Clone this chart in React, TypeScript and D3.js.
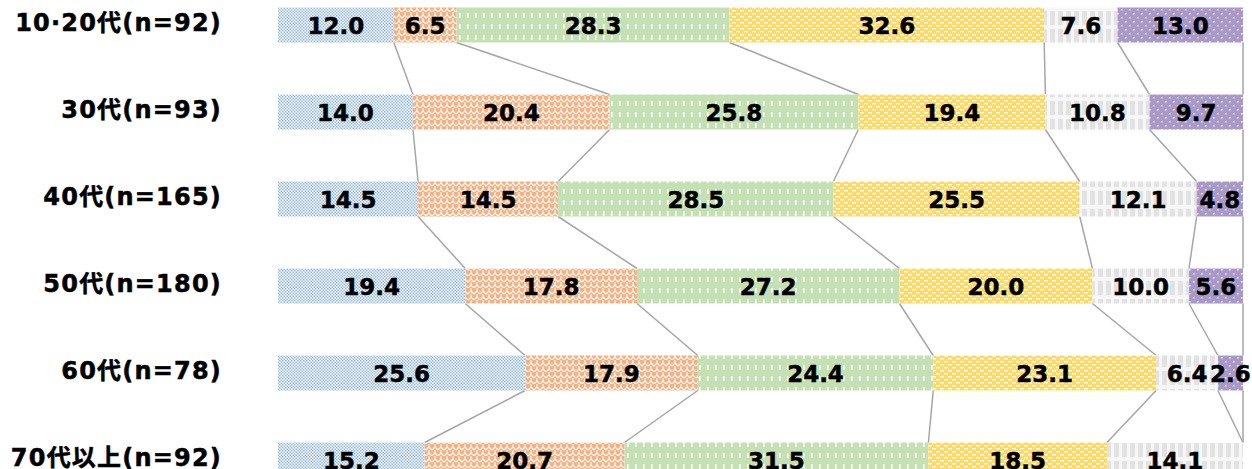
import React from "react";
import * as d3 from "d3";

const categories = ["10·20代(n=92)", "30代(n=93)", "40代(n=165)", "50代(n=180)", "60代(n=78)", "70代以上(n=92)"];
const seriesKeys = ["s1", "s2", "s3", "s4", "s5", "s6"];
const s1 = [12.0, 14.0, 14.5, 19.4, 25.6, 15.2];
const s2 = [6.5, 20.4, 14.5, 17.8, 17.9, 20.7];
const s3 = [28.3, 25.8, 28.5, 27.2, 24.4, 31.5];
const s4 = [32.6, 19.4, 25.5, 20.0, 23.1, 18.5];
const s5 = [7.6, 10.8, 12.1, 10.0, 6.4, 14.1];
const s6 = [13.0, 9.7, 4.8, 5.6, 2.6, 0.0];
const seriesValues = [s1, s2, s3, s4, s5, s6];

const W = 1252;
const H = 469;
const BAR_H = 35;

const rows = categories.map((c, i) => {
  const r: any = { cat: c };
  seriesKeys.forEach((k, j) => (r[k] = seriesValues[j][i]));
  return r;
});

const stacked = d3.stack().keys(seriesKeys).offset(d3.stackOffsetExpand)(rows as any);

const x = d3.scaleLinear().domain([0, 1]).range([278, 1243]);
const y = d3.scalePoint().domain(categories).range([25, 25 + 5 * 87]);

const font = "'DejaVu Sans', 'Noto Sans CJK JP', sans-serif";

function Patterns() {
  return (
    <defs>
      <pattern id="p1" width="3" height="3" patternUnits="userSpaceOnUse">
        <rect width="3" height="3" fill="#ffffff" />
        <rect x="0" y="0" width="1.5" height="1.5" fill="#92B7E4" />
        <rect x="1.5" y="1.5" width="1.5" height="1.5" fill="#92B7E4" />
      </pattern>
      <pattern id="p2" width="12" height="12" patternUnits="userSpaceOnUse">
        <rect width="12" height="12" fill="#F4B183" />
        <path d="M0,6 L3,3 L6,6 L9,3 L12,6" fill="none" stroke="#ffffff" strokeWidth="1.2" />
        <path d="M0,12 L3,9 L6,12 L9,9 L12,12" fill="none" stroke="#ffffff" strokeWidth="1.2" />
        <path d="M3,3 L3,0 M9,3 L9,0 M3,9 L3,6 M9,9 L9,6" fill="none" stroke="#ffffff" strokeWidth="1" />
      </pattern>
      <pattern id="p3" width="8" height="11" patternUnits="userSpaceOnUse">
        <rect width="8" height="11" fill="#C5E0B4" />
        <rect x="3" y="2" width="1.6" height="5" fill="#ffffff" />
      </pattern>
      <pattern id="p4" width="8" height="6" patternUnits="userSpaceOnUse">
        <rect width="8" height="6" fill="#FFD966" />
        <rect x="0" y="1" width="4" height="1.4" fill="#ffffff" />
        <rect x="4" y="4" width="4" height="1.4" fill="#ffffff" />
      </pattern>
      <pattern id="p5" width="16" height="18" patternUnits="userSpaceOnUse">
        <rect width="16" height="18" fill="#F7F7F7" />
        <rect x="2" y="0" width="5" height="7" fill="#E2E2E2" />
        <rect x="10" y="0" width="5" height="7" fill="#E2E2E2" />
        <rect x="2" y="11" width="5" height="7" fill="#E2E2E2" />
        <rect x="10" y="11" width="5" height="7" fill="#E2E2E2" />
      </pattern>
      <pattern id="p6" width="8" height="8" patternUnits="userSpaceOnUse">
        <rect width="8" height="8" fill="#A999C8" />
        <rect x="1" y="1" width="1.5" height="1.5" fill="#ffffff" />
        <rect x="5" y="5" width="1.5" height="1.5" fill="#ffffff" />
      </pattern>
    </defs>
  );
}

export default function App() {
  const lines: any[] = [];
  for (let i = 0; i < categories.length - 1; i++) {
    const c0 = categories[i];
    const c1 = categories[i + 1];
    stacked.forEach((layer, k) => {
      lines.push({
        key: `${i}-${k}`,
        x1: x(layer[i][1]),
        y1: (y(c0) as number) + BAR_H / 2,
        x2: x(layer[i + 1][1]),
        y2: (y(c1) as number) - BAR_H / 2,
      });
    });
  }

  return (
    <div style={{ position: "fixed", left: 0, top: 0, width: W, height: H, background: "#fff" }}>
      <svg width={W} height={H} style={{ display: "block" }}>
        <Patterns />
        {lines.map((l) => (
          <line key={l.key} x1={l.x1} y1={l.y1} x2={l.x2} y2={l.y2} stroke="#A6A6A6" strokeWidth={1.5} />
        ))}
        {stacked.map((layer, k) => (
          <g key={k} fill={`url(#p${k + 1})`}>
            {layer.map((d, i) => {
              const cy = y(categories[i]) as number;
              return (
                <rect
                  key={i}
                  x={x(d[0])}
                  y={cy - BAR_H / 2}
                  width={Math.max(0, x(d[1]) - x(d[0]))}
                  height={BAR_H}
                />
              );
            })}
          </g>
        ))}
        {stacked.map((layer, k) => (
          <g key={`t${k}`}>
            {layer.map((d, i) => {
              const v = seriesValues[k][i];
              if (!v) return null;
              const cy = y(categories[i]) as number;
              return (
                <text
                  key={i}
                  x={(x(d[0]) + x(d[1])) / 2}
                  y={cy + 1}
                  textAnchor="middle"
                  dominantBaseline="central"
                  fontFamily={font}
                  fontWeight="bold"
                  fontSize={23}
                  stroke="#000"
                  strokeWidth={0.5}
                  fill="#000"
                >
                  {v.toFixed(1)}
                </text>
              );
            })}
          </g>
        ))}
        {categories.map((c) => (
          <text
            key={c}
            x={222}
            y={(y(c) as number) - 2}
            textAnchor="end"
            dominantBaseline="central"
            fontFamily={font}
            fontWeight="bold"
            fontSize={24}
            letterSpacing={1.2}
            stroke="#000"
            strokeWidth={0.5}
            fill="#000"
          >
            {c}
          </text>
        ))}
      </svg>
    </div>
  );
}
